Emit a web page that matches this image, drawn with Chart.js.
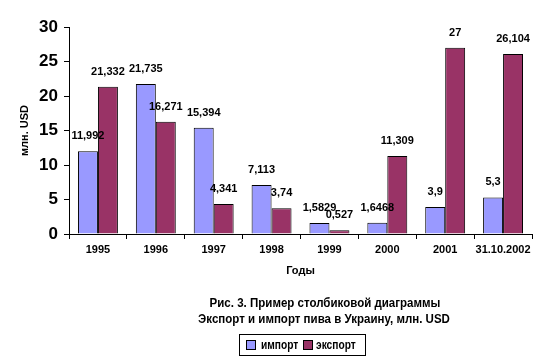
<!DOCTYPE html>
<html>
<head>
<meta charset="utf-8">
<script src="https://cdn.jsdelivr.net/npm/chart.js@4"></script>
<style>
  body { margin: 0; background: #fff; }
  #wrap { width: 550px; height: 364px; }
</style>
</head>
<body>
<div id="wrap"><canvas id="chart" width="550" height="364"></canvas></div>
<script>
const years = ['1995', '1996', '1997', '1998', '1999', '2000', '2001', '31.10.2002'];
const importValues = [11.992, 21.735, 15.394, 7.113, 1.5829, 1.6468, 3.9, 5.3];
const exportValues = [21.332, 16.271, 4.341, 3.74, 0.527, 11.309, 27, 26.104];
const yTicks = [0, 5, 10, 15, 20, 25, 30];

const importColor = '#9999ff';
const exportColor = '#993366';
const font = "Arial, 'Liberation Sans', sans-serif";

function fmt(v) {
    return String(v).replace('.', ',');
}

// value labels above each bar
const valueLabels = {
    id: 'valueLabels',
    afterDatasetsDraw(chart) {
        const ctx = chart.ctx;
        ctx.save();
        ctx.font = 'bold 11px ' + font;
        ctx.fillStyle = '#000';
        ctx.textAlign = 'center';
        ctx.textBaseline = 'middle';
        chart.data.datasets.forEach((ds, i) => {
            chart.getDatasetMeta(i).data.forEach((bar, j) => {
                ctx.fillText(fmt(ds.data[j]), bar.x, bar.y - 15);
            });
        });
        ctx.restore();
    }
};

// narrow text: squeeze horizontally since no condensed font is installed
function narrowText(ctx, txt, x, y, sx) {
    ctx.save();
    ctx.translate(x, y);
    ctx.scale(sx, 1);
    ctx.fillText(txt, 0, 0);
    ctx.restore();
}

// caption and boxed legend under the chart
const caption = {
    id: 'caption',
    afterDraw(chart) {
        const ctx = chart.ctx;
        ctx.save();
        ctx.fillStyle = '#000';
        ctx.textAlign = 'center';
        ctx.textBaseline = 'middle';
        ctx.font = 'bold 12px ' + font;
        narrowText(ctx, 'Рис. 3. Пример столбиковой диаграммы', 325, 304, 0.96);
        narrowText(ctx, 'Экспорт и импорт пива в Украину, млн. USD', 324, 320, 0.96);

        ctx.strokeStyle = '#000';
        ctx.lineWidth = 1;
        ctx.strokeRect(239.5, 334.5, 126, 21);

        ctx.textAlign = 'left';
        const items = [['импорт', importColor, 246, 261], ['экспорт', exportColor, 303, 316]];
        for (const [txt, col, x, tx] of items) {
            ctx.fillStyle = col;
            ctx.fillRect(x + 0.5, 340.5, 9, 9);
            ctx.strokeRect(x + 0.5, 340.5, 9, 9);
            ctx.fillStyle = '#000';
            narrowText(ctx, txt, tx, 345.5, 0.85);
        }
        ctx.restore();
    }
};

new Chart(document.getElementById('chart'), {
    type: 'bar',
    data: {
        labels: years,
        datasets: [
            { label: 'импорт', data: importValues, backgroundColor: importColor, borderColor: '#000', borderWidth: 1 },
            { label: 'экспорт', data: exportValues, backgroundColor: exportColor, borderColor: '#000', borderWidth: 1 }
        ]
    },
    options: {
        responsive: false,
        animation: false,
        layout: { padding: { left: 0, right: 18, top: 27, bottom: 85 } },
        datasets: { bar: { categoryPercentage: 0.69, barPercentage: 1 } },
        plugins: { legend: { display: false }, tooltip: { enabled: false } },
        scales: {
            x: {
                afterFit(s) { s.height = 45; },
                grid: { display: true, drawOnChartArea: false, color: '#000', tickLength: 5, offset: true },
                border: { color: '#000', width: 1 },
                ticks: { color: '#000', font: { family: font, size: 11, weight: 'bold' }, padding: 4, maxRotation: 0, autoSkip: false },
                title: { display: true, text: 'Годы', color: '#000', font: { family: font, size: 11, weight: 'bold' }, padding: { top: 0, bottom: 1 } }
            },
            y: {
                min: 0,
                max: 30,
                afterFit(s) { s.width = 69; },
                afterBuildTicks(s) { s.ticks = yTicks.map(v => ({ value: v })); },
                grid: { display: true, drawOnChartArea: false, color: '#000', tickLength: 5 },
                border: { color: '#000', width: 1 },
                ticks: { color: '#000', font: { family: font, size: 17, weight: 'bold' }, padding: 6 },
                title: { display: true, text: 'млн. USD', color: '#000', font: { family: font, size: 11, weight: 'bold' }, padding: { top: 18, bottom: 0 } }
            }
        }
    },
    plugins: [valueLabels, caption]
});
</script>
</body>
</html>
